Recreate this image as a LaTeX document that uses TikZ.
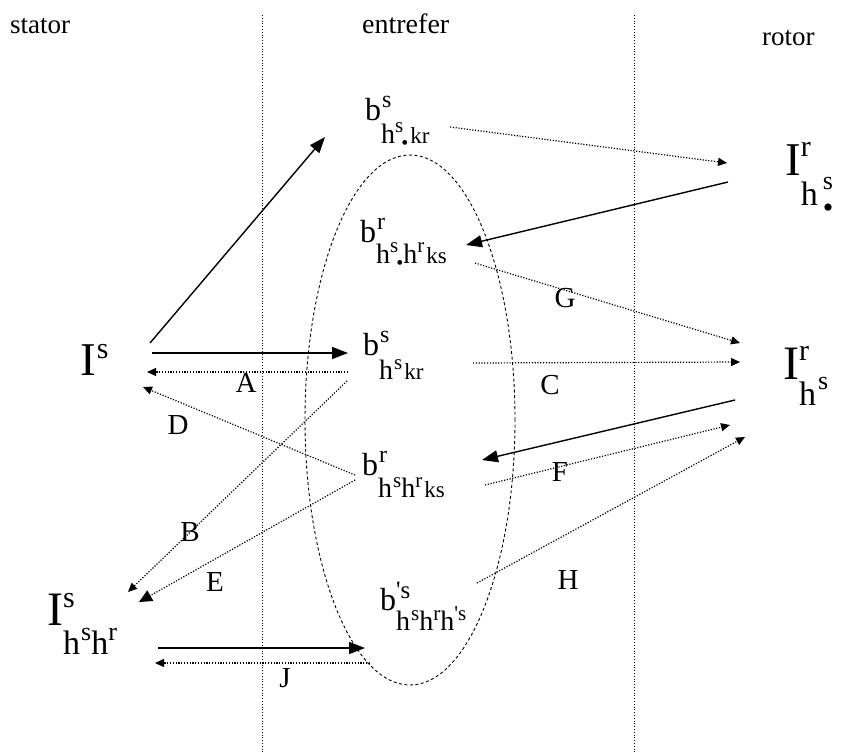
\documentclass[tikz,border=0pt]{standalone}
\usepackage{fontspec}
\setmainfont{Liberation Serif}
\usetikzlibrary{arrows.meta}
\newcommand\fs[1]{\fontsize{#1}{#1}\selectfont}
\newcommand\up[2]{\raisebox{#1pt}{#2}}
\begin{document}
\begin{tikzpicture}[x=1pt,y=-1pt,
  txt/.style={inner sep=0pt,anchor=base west},
  lbl/.style={inner sep=0pt,font=\fs{29}},
  hdr/.style={inner sep=0pt,anchor=base west,font=\fs{27}},
  solidarr/.style={line width=1.4pt,-{Triangle[length=16pt,width=12pt]}},
  dotarr/.style={line width=1.2pt,dash pattern=on 1.2pt off 1.6pt,-{Triangle[length=9pt,width=8pt]}},
  bigdotarr/.style={line width=1.2pt,dash pattern=on 1.2pt off 1.6pt,-{Triangle[length=13pt,width=12pt]}},
  sep/.style={line width=0.6pt,dash pattern=on 1pt off 1.8pt},
  gap/.style={line width=0.9pt,dash pattern=on 3pt off 2.5pt}]
\useasboundingbox (0,0) rectangle (842,753);
\fill[white] (0,0) rectangle (842,753);
% separators
\coordinate (s1t) at (262,15); \coordinate (s1b) at (262,753);
\coordinate (s2t) at (634,15); \coordinate (s2b) at (634,753);
\draw[sep] (s1t) -- (s1b);
\draw[sep] (s2t) -- (s2b);
% air gap ellipse
\draw[gap] (410,420) ellipse [x radius=105pt, y radius=265pt];
% headers
\node[hdr] (hst) at (10,33) {stator};
\node[hdr,font=\fs{28}] (hen) at (362,33) {entrefer};
\node[hdr] (hro) at (762,45) {rotor};
% b nodes
\node[txt] (b1) at (365,120) {\fs{32}b\rlap{\up{13}{\fs{24}\kern1pt s}}\up{-23}{\fs{28}h\up{11}{\fs{21}s}\kern-2pt\up{-6}{\fs{20}•}\kern2pt\fs{23}kr}};
\node[txt] (b2) at (360,242) {\fs{32}b\rlap{\up{13}{\fs{24}\kern1pt r}}\up{-21}{\fs{28}h\up{11}{\fs{21}s}\kern-2pt\up{-6}{\fs{20}•}h\up{11}{\fs{21}r}\kern2pt\fs{23}ks}};
\node[txt] (b3) at (363,355) {\fs{32}b\rlap{\up{13}{\fs{24}\kern1pt s}}\up{-24}{\fs{28}h\kern1pt\up{10}{\fs{21}s}\kern2pt\fs{23}kr}};
\node[txt] (b4) at (362,475) {\fs{32}b\rlap{\up{13}{\fs{24}\kern1pt r}}\up{-22}{\fs{28}h\kern1pt\up{10}{\fs{21}s}h\up{10}{\fs{21}r}\kern2pt\fs{23}ks}};
\node[txt] (b5) at (380,610) {\fs{32}b\rlap{\up{12}{\fs{25}\textquotesingle s}}\up{-20}{\fs{28}h\kern1pt\up{10}{\fs{21}s}h\up{10}{\fs{21}r}h\up{10}{\fs{21}\textquotesingle s}}};
% I nodes
\node[txt] (Is) at (80,375) {\fs{47}I\kern1pt\up{17}{\fs{30}s}};
\node[txt] (Irb) at (785,175) {\fs{47}I\rlap{\up{19}{\fs{30}r}}\up{-30}{\fs{34}h\kern5pt\rlap{\up{16}{\fs{26}s}}\up{-12}{\fs{30}•}}};
\node[txt] (Ir) at (783,379) {\fs{48}I\rlap{\up{19}{\fs{30}r}}\up{-26}{\fs{34}h\kern2pt\up{16}{\fs{26}s}}};
\node[txt] (Ishr) at (47,625) {\fs{48}I\rlap{\up{18}{\fs{30}s}}\up{-29}{\fs{34}h\kern1pt\up{14}{\fs{26}s}h\up{14}{\fs{26}r}}};
% letter labels
\node[lbl] (lA) at (246,383) {A};
\node[lbl] (lD) at (178,425) {D};
\node[lbl] (lB) at (190,532) {B};
\node[lbl] (lE) at (215,582) {E};
\node[lbl] (lG) at (565,298) {G};
\node[lbl] (lC) at (550,385) {C};
\node[lbl] (lF) at (560,472) {F};
\node[lbl] (lH) at (568,580) {H};
\node[lbl] (lJ) at (285,678) {J};
% connector end points
\coordinate (p1s) at (150,343); \coordinate (p1e) at (325,137);
\coordinate (p2s) at (152,353); \coordinate (p2e) at (348,353);
\coordinate (pAs) at (348,372); \coordinate (pAe) at (147,372);
\coordinate (pDs) at (355,475); \coordinate (pDe) at (143,387);
\coordinate (pBs) at (347,381); \coordinate (pBe) at (128,592);
\coordinate (pEs) at (355,480); \coordinate (pEe) at (139,602);
\coordinate (pTs) at (450,127); \coordinate (pTe) at (727,163);
\coordinate (pUs) at (728,182); \coordinate (pUe) at (466,245);
\coordinate (pGs) at (475,263); \coordinate (pGe) at (740,343);
\coordinate (pCs) at (473,363); \coordinate (pCe) at (740,362);
\coordinate (pVs) at (735,400); \coordinate (pVe) at (482,460);
\coordinate (pFs) at (485,485); \coordinate (pFe) at (730,425);
\coordinate (pHs) at (477,583); \coordinate (pHe) at (745,437);
\coordinate (pJs) at (158,648); \coordinate (pJe) at (365,648);
\coordinate (pKs) at (370,663); \coordinate (pKe) at (155,663);
% connectors
\draw[solidarr] (p1s) -- (p1e);
\draw[solidarr] (p2s) -- (p2e);
\draw[dotarr] (pAs) -- (pAe);
\draw[dotarr] (pDs) -- (pDe);
\draw[dotarr] (pBs) -- (pBe);
\draw[bigdotarr] (pEs) -- (pEe);
\draw[dotarr] (pTs) -- (pTe);
\draw[solidarr] (pUs) -- (pUe);
\draw[dotarr] (pGs) -- (pGe);
\draw[dotarr] (pCs) -- (pCe);
\draw[solidarr] (pVs) -- (pVe);
\draw[dotarr] (pFs) -- (pFe);
\draw[dotarr] (pHs) -- (pHe);
\draw[solidarr] (pJs) -- (pJe);
\draw[dotarr] (pKs) -- (pKe);
\end{tikzpicture}
\end{document}
